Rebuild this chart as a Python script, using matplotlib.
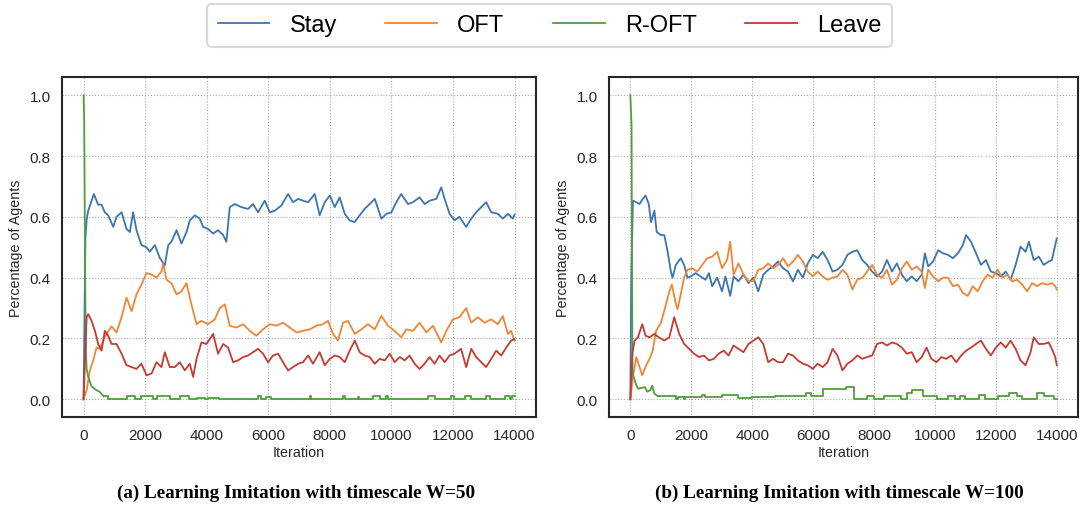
import matplotlib
matplotlib.use("Agg")
from matplotlib import pyplot as plt

# ---- data (iteration, share of agents) ----
# (a) W=50
a_stay_it = [0, 60, 100, 150, 335, 475, 585, 690, 800, 965, 1070, 1235, 1395, 1505, 1610, 1720, 1880, 2045, 2150,
             2315, 2480, 2640, 2750, 2855, 3020, 3180, 3345, 3450, 3615, 3775, 3885, 4045, 4210, 4370, 4535, 4640,
             4750, 4910, 5130, 5345, 5505, 5670, 5885, 6050, 6210, 6425, 6645, 6805, 6970, 7130, 7295, 7510, 7670,
             7835, 8000, 8160, 8320, 8485, 8645, 8810, 8970, 9130, 9295, 9460, 9675, 9840, 10000, 10160, 10320,
             10540, 10700, 10915, 11080, 11240, 11460, 11620, 11730, 11890, 12050, 12210, 12430, 12595, 12755,
             12920, 13080, 13245, 13460, 13620, 13785, 13945, 14000]
a_stay = [0.0, 0.53, 0.59, 0.62, 0.675, 0.64, 0.64, 0.615, 0.605, 0.567, 0.6, 0.615, 0.56, 0.55, 0.615, 0.556,
          0.507, 0.5, 0.485, 0.507, 0.464, 0.44, 0.507, 0.518, 0.556, 0.512, 0.55, 0.588, 0.605, 0.594, 0.567,
          0.56, 0.545, 0.556, 0.54, 0.518, 0.632, 0.642, 0.632, 0.626, 0.642, 0.615, 0.653, 0.615, 0.62, 0.637,
          0.675, 0.648, 0.659, 0.653, 0.648, 0.675, 0.605, 0.648, 0.67, 0.632, 0.664, 0.61, 0.588, 0.583, 0.605,
          0.626, 0.642, 0.659, 0.594, 0.61, 0.615, 0.648, 0.675, 0.642, 0.648, 0.664, 0.642, 0.653, 0.659, 0.697,
          0.659, 0.61, 0.588, 0.6, 0.567, 0.594, 0.615, 0.632, 0.648, 0.615, 0.61, 0.594, 0.61, 0.594, 0.607]

a_oft_it = [0, 100, 205, 315, 420, 530, 640, 745, 910, 1070, 1235, 1395, 1560, 1720, 1880, 2045, 2210, 2370, 2530,
            2585, 2695, 2855, 3020, 3180, 3345, 3505, 3670, 3830, 4045, 4265, 4425, 4590, 4750, 4965, 5185, 5400,
            5615, 5830, 6050, 6265, 6480, 6700, 6915, 7130, 7345, 7565, 7780, 7940, 8105, 8265, 8430, 8590, 8810,
            9025, 9240, 9460, 9675, 9890, 10105, 10320, 10485, 10700, 10915, 11135, 11350, 11620, 11785, 12000,
            12210, 12430, 12595, 12810, 13025, 13245, 13460, 13620, 13785, 13890, 14000]
a_oft = [0, 0.03, 0.095, 0.128, 0.17, 0.166, 0.193, 0.215, 0.24, 0.22, 0.27, 0.334, 0.29, 0.345, 0.377, 0.415,
         0.41, 0.4, 0.42, 0.447, 0.393, 0.382, 0.345, 0.355, 0.382, 0.312, 0.247, 0.258, 0.247, 0.263, 0.3, 0.312,
         0.242, 0.236, 0.247, 0.225, 0.209, 0.23, 0.247, 0.242, 0.252, 0.236, 0.22, 0.225, 0.23, 0.242, 0.247,
         0.258, 0.215, 0.193, 0.252, 0.258, 0.215, 0.23, 0.247, 0.23, 0.274, 0.242, 0.225, 0.204, 0.23, 0.225,
         0.252, 0.22, 0.242, 0.187, 0.225, 0.263, 0.27, 0.3, 0.252, 0.27, 0.252, 0.263, 0.247, 0.274, 0.215,
         0.225, 0.193]

a_roft_it = [0, 20, 40, 60, 80, 100, 150, 260, 420, 520, 650, 800, 1400, 1660, 1880, 2270, 2370, 2800, 3120, 3440,
             3670, 3930, 4050, 4400, 5670, 5780, 5940, 6100, 7345, 7400, 8430, 8485, 8900, 8950, 9400, 9620, 9835,
             9890, 11190, 11405, 11945, 12050, 12380, 12600, 13080, 13190, 13680, 13840, 13930, 14000]
a_roft = [1.0, 0.92, 0.6, 0.3, 0.15, 0.1, 0.075, 0.042, 0.03, 0.025, 0.01, 0.0, 0.01, 0.0, 0.01, 0.0, 0.01, 0.0,
          0.01, 0.0, 0.005, 0.0, 0.005, 0.0, 0.012, 0.0, 0.006, 0.0, 0.01, 0.0, 0.01, 0.0, 0.008, 0.0, 0.01, 0.0,
          0.01, 0.0, 0.01, 0.0, 0.01, 0.0, 0.01, 0.0, 0.01, 0.0, 0.01, 0.0, 0.01, 0.01]

a_leave_it = [0, 100, 150, 260, 370, 475, 585, 690, 800, 910, 1070, 1235, 1395, 1560, 1720, 1880, 2045, 2210, 2370,
              2530, 2640, 2800, 2965, 3125, 3290, 3450, 3560, 3670, 3830, 3995, 4210, 4370, 4535, 4695, 4860, 5020,
              5185, 5345, 5505, 5670, 5830, 5995, 6155, 6320, 6480, 6645, 6805, 6970, 7130, 7295, 7455, 7670, 7835,
              8000, 8160, 8320, 8485, 8645, 8810, 8970, 9130, 9295, 9460, 9620, 9785, 9945, 10105, 10270, 10430,
              10590, 10755, 10915, 11080, 11240, 11405, 11565, 11730, 11890, 12050, 12265, 12430, 12595, 12755,
              12920, 13080, 13245, 13405, 13570, 13730, 13890, 14000]
a_leave = [0, 0.27, 0.28, 0.258, 0.225, 0.182, 0.16, 0.225, 0.209, 0.182, 0.182, 0.15, 0.112, 0.106, 0.1, 0.117,
           0.079, 0.085, 0.122, 0.106, 0.155, 0.106, 0.106, 0.122, 0.095, 0.117, 0.074, 0.133, 0.187, 0.182, 0.215,
           0.15, 0.182, 0.17, 0.122, 0.128, 0.139, 0.144, 0.155, 0.166, 0.15, 0.122, 0.144, 0.15, 0.122, 0.095,
           0.106, 0.117, 0.122, 0.144, 0.117, 0.155, 0.112, 0.133, 0.144, 0.139, 0.122, 0.16, 0.193, 0.155, 0.144,
           0.139, 0.117, 0.133, 0.128, 0.15, 0.122, 0.139, 0.128, 0.144, 0.117, 0.1, 0.117, 0.139, 0.117, 0.144,
           0.122, 0.144, 0.15, 0.166, 0.106, 0.166, 0.139, 0.122, 0.106, 0.133, 0.16, 0.144, 0.17, 0.193, 0.198]

# (b) W=100
b_stay_it = [0, 30, 85, 195, 300, 410, 500, 605, 680, 790, 865, 1005, 1115, 1225, 1330, 1385, 1495, 1655, 1765,
             1875, 1980, 2145, 2305, 2470, 2580, 2685, 2850, 3010, 3120, 3280, 3390, 3550, 3715, 3880, 4040, 4200,
             4365, 4525, 4690, 4850, 5015, 5175, 5340, 5500, 5665, 5825, 5990, 6150, 6315, 6475, 6640, 6800, 6965,
             7125, 7290, 7450, 7615, 7775, 7940, 8100, 8265, 8425, 8590, 8750, 8915, 9075, 9240, 9400, 9565, 9670,
             9780, 9940, 10105, 10265, 10430, 10590, 10755, 10915, 11025, 11185, 11350, 11510, 11675, 11835, 12000,
             12160, 12325, 12485, 12650, 12810, 12975, 13085, 13245, 13410, 13570, 13735, 13840, 13950, 14000]
b_stay = [0, 0.4, 0.653, 0.648, 0.642, 0.659, 0.67, 0.642, 0.583, 0.62, 0.55, 0.54, 0.54, 0.485, 0.42, 0.4, 0.442,
          0.464, 0.442, 0.4, 0.404, 0.415, 0.404, 0.393, 0.415, 0.372, 0.4, 0.355, 0.404, 0.34, 0.404, 0.388, 0.41,
          0.382, 0.4, 0.355, 0.41, 0.426, 0.437, 0.453, 0.431, 0.42, 0.388, 0.426, 0.4, 0.447, 0.475, 0.464, 0.485,
          0.458, 0.42, 0.426, 0.442, 0.475, 0.485, 0.49, 0.458, 0.442, 0.42, 0.404, 0.42, 0.458, 0.42, 0.447, 0.41,
          0.388, 0.404, 0.388, 0.41, 0.48, 0.437, 0.453, 0.49, 0.48, 0.475, 0.464, 0.48, 0.507, 0.54, 0.518, 0.48,
          0.442, 0.458, 0.42, 0.415, 0.404, 0.42, 0.393, 0.442, 0.502, 0.485, 0.518, 0.458, 0.469, 0.442, 0.453,
          0.458, 0.507, 0.529]

b_oft_it = [0, 85, 195, 300, 390, 520, 630, 735, 845, 1005, 1170, 1280, 1365, 1475, 1550, 1655, 1765, 1875, 2035,
            2200, 2360, 2525, 2685, 2850, 3010, 3175, 3280, 3390, 3550, 3715, 3880, 4040, 4200, 4365, 4525, 4690,
            4850, 5015, 5175, 5340, 5500, 5665, 5825, 5990, 6150, 6315, 6475, 6640, 6800, 6965, 7125, 7290, 7450,
            7615, 7775, 7940, 8100, 8265, 8425, 8590, 8750, 8915, 9075, 9240, 9400, 9565, 9670, 9780, 9940, 10105,
            10265, 10430, 10590, 10755, 10915, 11080, 11240, 11405, 11565, 11730, 11890, 12055, 12215, 12380, 12540,
            12700, 12865, 13030, 13190, 13355, 13515, 13680, 13840, 13950, 14000]
b_oft = [0, 0.074, 0.139, 0.106, 0.079, 0.112, 0.133, 0.16, 0.225, 0.252, 0.312, 0.355, 0.377, 0.323, 0.296,
         0.345, 0.4, 0.426, 0.431, 0.42, 0.442, 0.464, 0.469, 0.485, 0.431, 0.458, 0.518, 0.41, 0.447, 0.41, 0.388,
         0.388, 0.426, 0.431, 0.447, 0.431, 0.442, 0.464, 0.437, 0.453, 0.475, 0.453, 0.42, 0.404, 0.42, 0.404,
         0.393, 0.4, 0.404, 0.426, 0.41, 0.361, 0.393, 0.4, 0.42, 0.442, 0.41, 0.4, 0.426, 0.377, 0.393, 0.431,
         0.453, 0.426, 0.437, 0.42, 0.366, 0.426, 0.404, 0.388, 0.4, 0.4, 0.372, 0.377, 0.35, 0.34, 0.372, 0.355,
         0.388, 0.41, 0.4, 0.426, 0.4, 0.41, 0.388, 0.393, 0.377, 0.355, 0.382, 0.372, 0.382, 0.377, 0.382, 0.372,
         0.361]

b_roft_it = [0, 40, 55, 70, 90, 180, 250, 480, 550, 650, 720, 780, 900, 1500, 1550, 1750, 1800, 2350, 2450, 3000,
             3550, 4000, 4750, 5780, 5940, 6320, 7080, 7350, 7780, 8000, 8320, 8870, 9080, 9240, 9620, 10060, 10440,
             10650, 10810, 10980, 11460, 11630, 12060, 12440, 12710, 12870, 13360, 13570, 13900, 14000]
b_roft = [1.0, 0.9, 0.4, 0.1, 0.08, 0.05, 0.035, 0.04, 0.025, 0.03, 0.045, 0.02, 0.01, 0.0, 0.009, 0.0, 0.009,
          0.013, 0.009, 0.013, 0.004, 0.009, 0.01, 0.02, 0.01, 0.033, 0.04, 0.0, 0.01, 0.0, 0.01, 0.0, 0.02, 0.03,
          0.01, 0.0, 0.01, 0.0, 0.01, 0.0, 0.015, 0.0, 0.01, 0.02, 0.01, 0.0, 0.02, 0.01, 0.0, 0.0]

b_leave_it = [0, 65, 140, 250, 390, 500, 630, 790, 930, 1115, 1280, 1440, 1605, 1765, 1930, 2090, 2255, 2415, 2580,
              2740, 2900, 3065, 3225, 3390, 3550, 3715, 3880, 4040, 4200, 4365, 4525, 4690, 4850, 5015, 5175, 5340,
              5500, 5665, 5825, 5990, 6150, 6315, 6475, 6640, 6800, 6965, 7125, 7290, 7450, 7615, 7775, 7940, 8100,
              8265, 8425, 8590, 8750, 8915, 9075, 9240, 9400, 9565, 9725, 9885, 10050, 10210, 10375, 10535, 10700,
              10860, 11025, 11185, 11350, 11510, 11675, 11835, 12000, 12160, 12325, 12485, 12650, 12810, 12975,
              13140, 13245, 13410, 13570, 13735, 13840, 13950, 14000]
b_leave = [0, 0.15, 0.193, 0.204, 0.247, 0.209, 0.204, 0.215, 0.204, 0.193, 0.204, 0.27, 0.215, 0.182, 0.166, 0.15,
           0.139, 0.144, 0.128, 0.133, 0.15, 0.16, 0.144, 0.177, 0.166, 0.155, 0.182, 0.193, 0.204, 0.182, 0.122,
           0.133, 0.122, 0.122, 0.15, 0.144, 0.128, 0.117, 0.112, 0.1, 0.117, 0.106, 0.122, 0.166, 0.144, 0.095,
           0.117, 0.128, 0.144, 0.133, 0.139, 0.144, 0.182, 0.187, 0.177, 0.187, 0.182, 0.17, 0.15, 0.155, 0.122,
           0.139, 0.17, 0.133, 0.122, 0.139, 0.133, 0.144, 0.122, 0.144, 0.16, 0.17, 0.182, 0.193, 0.166, 0.144,
           0.17, 0.187, 0.17, 0.193, 0.166, 0.128, 0.112, 0.155, 0.204, 0.182, 0.182, 0.187, 0.166, 0.139, 0.112]

labels = ["Stay", "OFT", "R-OFT", "Leave"]
colors = ["#3a75af", "#ef8636", "#519e3e", "#c53a32"]
xticks = [0, 2000, 4000, 6000, 8000, 10000, 12000, 14000]
yticks = [0.0, 0.2, 0.4, 0.6, 0.8, 1.0]
captions = ["(a) Learning Imitation with timescale W=50", "(b) Learning Imitation with timescale W=100"]

plt.rcParams['font.family'] = ['Liberation Sans', 'DejaVu Sans']

fig = plt.figure(figsize=(10.86, 5.06), dpi=100)
ax1 = fig.add_axes([0.0571, 0.174, 0.4365, 0.672])
ax2 = fig.add_axes([0.5608, 0.174, 0.4319, 0.672])

panels = [
    (ax1, [(a_stay_it, a_stay), (a_oft_it, a_oft), (a_roft_it, a_roft), (a_leave_it, a_leave)]),
    (ax2, [(b_stay_it, b_stay), (b_oft_it, b_oft), (b_roft_it, b_roft), (b_leave_it, b_leave)]),
]

for ax, series in panels:
    for i, (xs, ys) in enumerate(series):
        if labels[i] == "R-OFT":
            # fast initial decay drawn as a line, the small later bumps as steps
            k = ys.index(0.01)
            ax.plot(xs[:k + 1], ys[:k + 1], color=colors[i], lw=1.3, label=labels[i])
            ax.plot(xs[k:], ys[k:], color=colors[i], lw=1.3, drawstyle='steps-post')
        else:
            ax.plot(xs, ys, color=colors[i], lw=1.3, label=labels[i])
    ax.set_xticks(xticks)
    ax.set_yticks(yticks)
    ax.set_yticklabels(["%.1f" % v for v in yticks])
    ax.set_xlim(-700, 14700)
    ax.set_ylim(-0.058, 1.06)
    ax.grid(True, color="#a8a8a8", linestyle=":", linewidth=0.8)
    ax.set_axisbelow(True)
    for sp in ax.spines.values():
        sp.set_color("#262626")
        sp.set_linewidth(1.5)
    ax.tick_params(labelsize=11, colors="#262626", length=0, pad=8)
    ax.set_xlabel("Iteration", fontsize=10.3, color="#262626", labelpad=2)
    ax.set_ylabel("Percentage of Agents", fontsize=10.3, color="#262626", labelpad=5)

fig.text(0.273, 0.026, captions[0], ha="center", va="center", fontsize=13.8, fontweight="bold",
         family="Liberation Serif")
fig.text(0.773, 0.026, captions[1], ha="center", va="center", fontsize=13.8, fontweight="bold",
         family="Liberation Serif")

handles, labs = ax1.get_legend_handles_labels()
leg = fig.legend(handles, labs, loc="upper center", bbox_to_anchor=(0.506, 1.0), ncol=4, fontsize=17,
                 frameon=True, handlelength=2.2, handletextpad=0.85, columnspacing=2.05,
                 borderpad=0.45, borderaxespad=0.2, fancybox=True)
leg.get_frame().set_edgecolor("#d0d0d0")
leg.get_frame().set_linewidth(1.5)

fig.savefig("out.png", dpi=100)
